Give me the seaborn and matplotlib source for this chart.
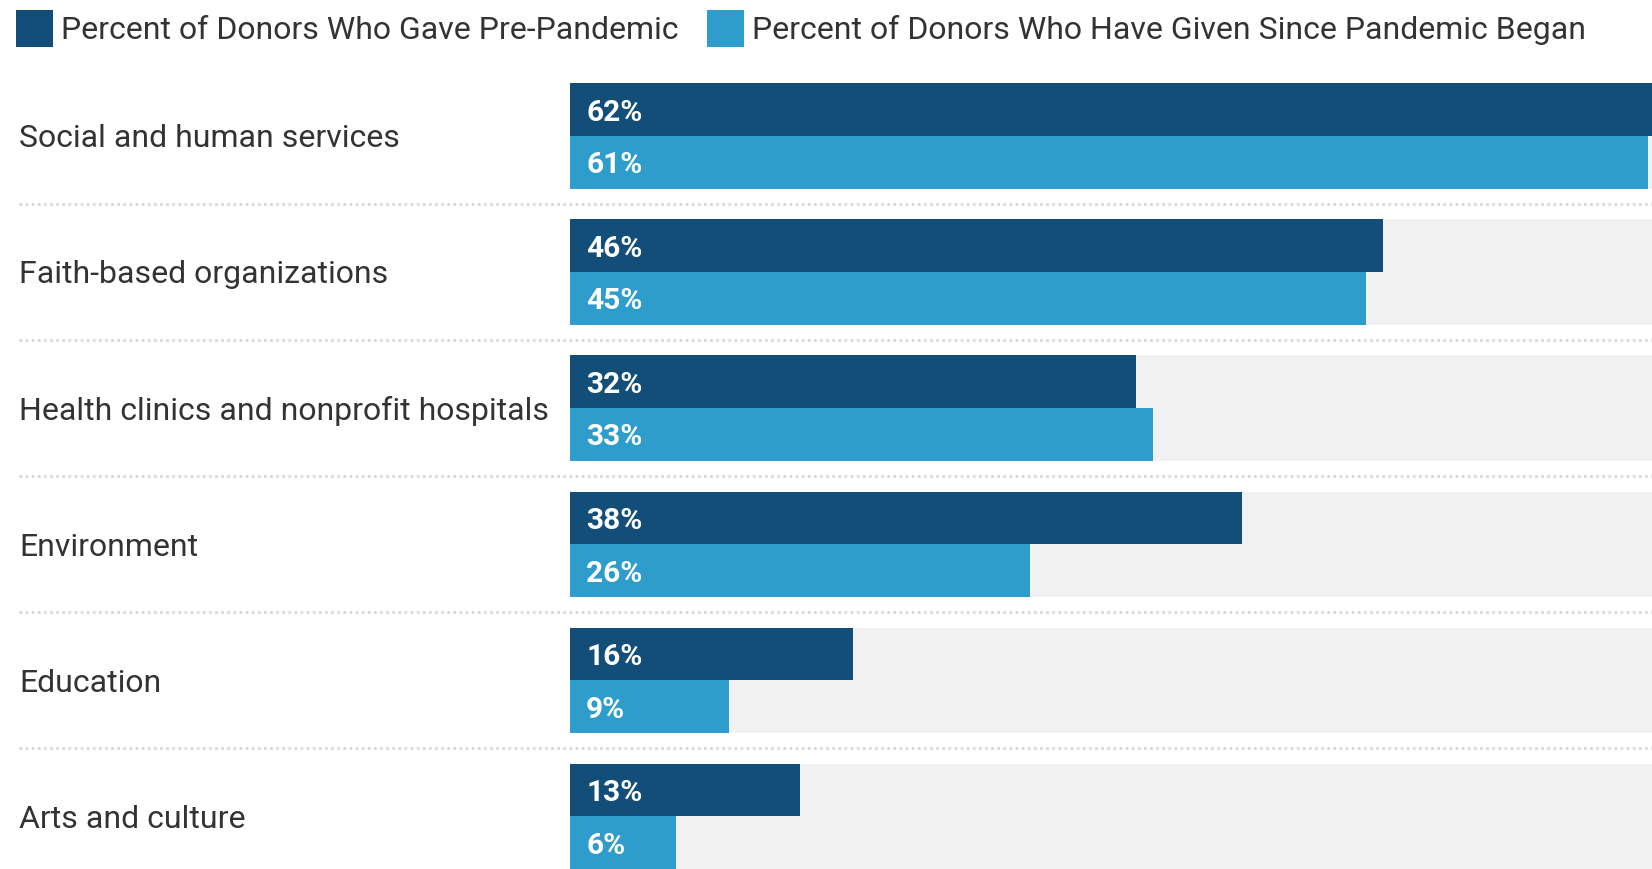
import matplotlib
matplotlib.use("Agg")
import matplotlib.pyplot as plt
import matplotlib.transforms as mtransforms
from matplotlib.patches import Patch
import pandas as pd
import seaborn as sns

# --- data -------------------------------------------------------------
categories = [
    "Social and human services",
    "Faith-based organizations",
    "Health clinics and nonprofit hospitals",
    "Environment",
    "Education",
    "Arts and culture",
]
pre_pandemic = [62, 46, 32, 38, 16, 13]
since_pandemic = [61, 45, 33, 26, 9, 6]
series_names = [
    "Percent of Donors Who Gave Pre-Pandemic",
    "Percent of Donors Who Have Given Since Pandemic Began",
]

# --- styling ----------------------------------------------------------
DARK = "#134e78"
LIGHT = "#2f9dcc"
TRACK = "#f1f1f1"
TEXT = "#333333"
GRID = "#d9d9d9"

sns.set_theme(style="white")
plt.rcParams["font.family"] = ["Roboto", "DejaVu Sans"]

df = pd.DataFrame({
    "category": categories * 2,
    "percent": pre_pandemic + since_pandemic,
    "series": [series_names[0]] * len(categories) + [series_names[1]] * len(categories),
})

W, H, DPI = 1652, 869, 100
fig = plt.figure(figsize=(W / DPI, H / DPI), dpi=DPI)
ax = fig.add_axes([0, 0, 1, 1])

group_width = 0.774
px_per_pct = 17.68
x0_px = 570
n = len(categories)

# grey tracks behind each category
track_len = max(pre_pandemic + since_pandemic)
ax.barh(range(n), [track_len * 2] * n, height=group_width, color=TRACK,
        linewidth=0, zorder=0)
n_before = len(ax.containers)

sns.barplot(
    data=df, y="category", x="percent", hue="series", orient="h",
    palette=[DARK, LIGHT], width=group_width, saturation=1,
    linewidth=0, legend=False, ax=ax, zorder=2,
)
bar_containers = ax.containers[n_before:]

ax.set_xlim(-x0_px / px_per_pct, (W - x0_px) / px_per_pct)
ax.set_ylim(5.386, -0.998)
ax.axis("off")

# value labels inside the bars
for container in bar_containers:
    for rect in container:
        val = rect.get_width()
        ax.annotate(
            f"{val:.0f}%",
            xy=(0, rect.get_y() + rect.get_height() / 2),
            xytext=(16, -3), textcoords="offset pixels",
            ha="left", va="center", color="white",
            fontsize=21.5, fontweight="bold", zorder=3,
        )

# category labels on the left
blend = mtransforms.blended_transform_factory(fig.transFigure, ax.transData)
shift = mtransforms.ScaledTranslation(0, -3 / DPI, fig.dpi_scale_trans)
for i, cat in enumerate(categories):
    ax.text(19 / W, i, cat, transform=blend + shift, ha="left", va="center",
            fontsize=23, color=TEXT)

# dotted separators between categories
for i in range(n - 1):
    ax.axhline(i + 0.5, xmin=19 / W, xmax=1, color=GRID,
               linestyle=(0, (1, 1.2)), linewidth=2, zorder=1)

# legend across the top
handles = [Patch(facecolor=DARK, edgecolor="none"),
           Patch(facecolor=LIGHT, edgecolor="none")]
fig.legend(
    handles, series_names, loc="upper left",
    bbox_to_anchor=(16 / W, 1 - 10 / H), ncol=2, frameon=False,
    fontsize=23, labelcolor=TEXT,
    handlelength=1.16, handleheight=1.41, handletextpad=0.25,
    columnspacing=0.9, borderpad=0, borderaxespad=0,
)

fig.savefig("out.png", dpi=DPI)
